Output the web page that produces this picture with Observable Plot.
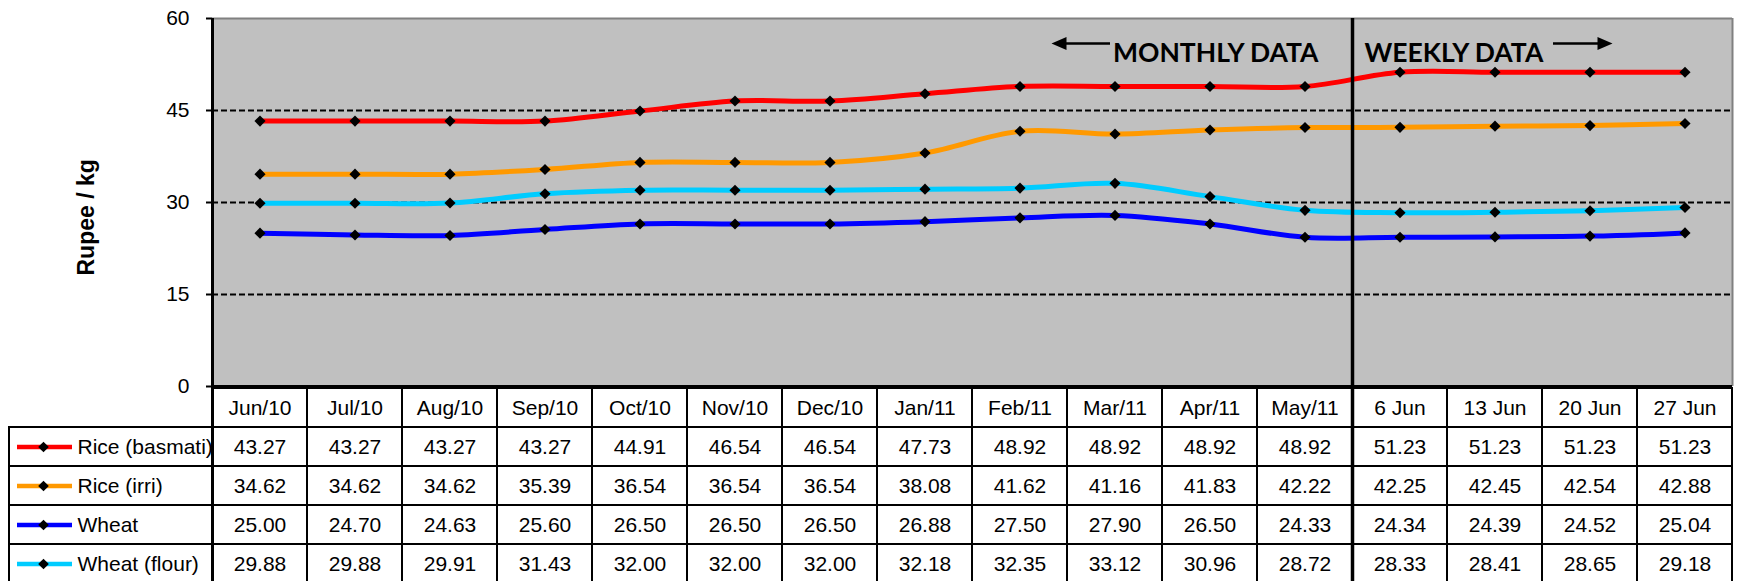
<!DOCTYPE html>
<html>
<head>
<meta charset="utf-8">
<script src="https://cdn.jsdelivr.net/npm/d3@7"></script>
<script src="https://cdn.jsdelivr.net/npm/@observablehq/plot@0.6"></script>
<style>
  html, body { margin: 0; padding: 0; background: #fff; overflow: hidden; }
  #chart svg { display: block; }
</style>
</head>
<body>
<div id="chart"></div>
<script>
// ---------- data ----------
const periods = ["Jun/10", "Jul/10", "Aug/10", "Sep/10", "Oct/10", "Nov/10", "Dec/10", "Jan/11",
                 "Feb/11", "Mar/11", "Apr/11", "May/11", "6 Jun", "13 Jun", "20 Jun", "27 Jun"];
const riceBasmati = [43.27, 43.27, 43.27, 43.27, 44.91, 46.54, 46.54, 47.73, 48.92, 48.92, 48.92, 48.92, 51.23, 51.23, 51.23, 51.23];
const riceIrri    = [34.62, 34.62, 34.62, 35.39, 36.54, 36.54, 36.54, 38.08, 41.62, 41.16, 41.83, 42.22, 42.25, 42.45, 42.54, 42.88];
const wheat       = [25.00, 24.70, 24.63, 25.60, 26.50, 26.50, 26.50, 26.88, 27.50, 27.90, 26.50, 24.33, 24.34, 24.39, 24.52, 25.04];
const wheatFlour  = [29.88, 29.88, 29.91, 31.43, 32.00, 32.00, 32.00, 32.18, 32.35, 33.12, 30.96, 28.72, 28.33, 28.41, 28.65, 29.18];
const seriesNames = ["Rice (basmati)", "Rice (irri)", "Wheat", "Wheat (flour)"];
const seriesColors = ["#FF0000", "#FF9900", "#0000FF", "#00CCFF"];
const yTicks = [0, 15, 30, 45, 60];
const monthlyCount = 12;
const yLabel = "Rupee / kg";
const monthlyLabel = "MONTHLY DATA";
const weeklyLabel = "WEEKLY DATA";

// ---------- derived ----------
const seriesValues = [riceBasmati, riceIrri, wheat, wheatFlour];
const rows = seriesNames.flatMap((name, s) =>
  seriesValues[s].map((v, i) => ({series: name, i, period: periods[i], value: v})));

const W = 1738;
const chartMarginLeft = 212, tableMarginLeft = 9, marginRight = 6;
const xDomain = [-0.5, periods.length - 0.5];
const colUnitPx = (W - chartMarginLeft - marginRight) / periods.length;
const legendUnits = (chartMarginLeft - tableMarginLeft) / colUnitPx;
const legendStart = xDomain[0] - legendUnits;
const divider = monthlyCount - 0.5;
const fontFamily = "'Liberation Sans', Arial, Helvetica, sans-serif";
const annotFont = "Lato, 'Open Sans', sans-serif";
const colorScale = {type: "ordinal", domain: seriesNames, range: seriesColors};

const headLeft = {draw(ctx) { ctx.moveTo(0, 0); ctx.lineTo(15, -6.5); ctx.lineTo(15, 6.5); ctx.closePath(); }};
const headRight = {draw(ctx) { ctx.moveTo(0, 0); ctx.lineTo(-15, -6.5); ctx.lineTo(-15, 6.5); ctx.closePath(); }};

// ---------- chart ----------
const chart = Plot.plot({
  width: W, height: 387,
  marginLeft: chartMarginLeft, marginRight, marginTop: 18, marginBottom: 1,
  style: {fontFamily, fontSize: "21px", color: "black", background: "white", overflow: "visible"},
  x: {domain: xDomain, axis: null},
  y: {domain: [yTicks[0], yTicks[yTicks.length - 1]]},
  color: colorScale,
  marks: [
    Plot.frame({fill: "#C0C0C0", stroke: null}),
    Plot.ruleY(yTicks.slice(1, -1), {stroke: "black", strokeWidth: 2, strokeDasharray: "6,3"}),
    Plot.ruleY(yTicks.slice(-1), {stroke: "#808080", strokeWidth: 2}),
    Plot.ruleX([xDomain[1]], {stroke: "#808080", strokeWidth: 2}),
    Plot.line(rows, {x: "i", y: "value", z: "series", stroke: "series", strokeWidth: 5,
                     curve: "cardinal", tension: 0}),
    Plot.dot(rows, {x: "i", y: "value", symbol: "diamond2", r: 5, fill: "black", stroke: null}),
    Plot.ruleX([divider], {stroke: "black", strokeWidth: 3.5}),
    Plot.ruleX([xDomain[0]], {stroke: "black", strokeWidth: 3}),
    Plot.ruleY([0], {stroke: "black", strokeWidth: 3}),
    Plot.axisY({ticks: yTicks, tickSize: 6, tickPadding: 17, fontSize: 21, strokeWidth: 2, label: null}),
    Plot.text([yLabel], {frameAnchor: "left", dx: -126, dy: 73, rotate: -90,
                         fontWeight: "bold", fontSize: 23, text: d => d}),
    // annotations
    Plot.text([monthlyLabel], {x: () => divider, frameAnchor: "top", dy: 25, dx: -34, textAnchor: "end",
                               text: d => d, fontFamily: annotFont, fontWeight: 700, fontSize: 26.5}),
    Plot.text([weeklyLabel], {x: () => divider, frameAnchor: "top", dy: 25, dx: 12, textAnchor: "start",
                              text: d => d, fontFamily: annotFont, fontWeight: 700, fontSize: 26.5}),
    Plot.ruleY([0], {y: () => yTicks[yTicks.length - 1], dy: 25, x1: () => divider - 4, x2: () => divider,
                     insetLeft: 88, insetRight: 242, stroke: "black", strokeWidth: 2.5}),
    Plot.dot([0], {x: () => divider, y: () => yTicks[yTicks.length - 1], dx: -301, dy: 25,
                   symbol: headLeft, fill: "black", stroke: null}),
    Plot.ruleY([0], {y: () => yTicks[yTicks.length - 1], dy: 25, x1: () => divider, x2: () => xDomain[1],
                     insetLeft: 201, insetRight: 132, stroke: "black", strokeWidth: 2.5}),
    Plot.dot([0], {x: () => divider, y: () => yTicks[yTicks.length - 1], dx: 260, dy: 25,
                   symbol: headRight, fill: "black", stroke: null})
  ]
});

// ---------- data table ----------
const headerKey = "header";
const table = Plot.plot({
  width: W, height: 196,
  marginLeft: tableMarginLeft, marginRight, marginTop: 0, marginBottom: 0,
  style: {fontFamily, fontSize: "21px", color: "black", background: "white", overflow: "visible"},
  x: {domain: [legendStart, xDomain[1]], axis: null},
  y: {domain: [headerKey, ...seriesNames], axis: null, padding: 0},
  color: colorScale,
  marks: [
    Plot.barX(periods, {x1: (d, i) => i - 0.5, x2: (d, i) => i + 0.5, y: () => headerKey,
                        fill: "white", stroke: "black", strokeWidth: 2}),
    Plot.barX(rows, {x1: d => d.i - 0.5, x2: d => d.i + 0.5, y: "series",
                     fill: "white", stroke: "black", strokeWidth: 2}),
    Plot.barX(seriesNames, {x1: () => legendStart, x2: () => xDomain[0], y: d => d,
                            fill: "white", stroke: "black", strokeWidth: 2}),
    Plot.text(periods, {x: (d, i) => i, y: () => headerKey, text: d => d}),
    Plot.text(rows, {x: "i", y: "series", text: d => d.value.toFixed(2)}),
    Plot.ruleY(seriesNames, {y: d => d, x1: () => legendStart, x2: () => xDomain[0],
                             insetLeft: 8, insetRight: 140, stroke: d => d, strokeWidth: 4.5}),
    Plot.dot(seriesNames, {x: () => legendStart, dx: 34, y: d => d, symbol: "diamond2", r: 4.8,
                           fill: "black", stroke: null}),
    Plot.text(seriesNames, {x: () => legendStart, dx: 68, y: d => d, text: d => d, textAnchor: "start"}),
    Plot.ruleX([divider], {stroke: "black", strokeWidth: 3.5}),
    Plot.ruleX([xDomain[0]], {stroke: "black", strokeWidth: 3})
  ]
});

const root = document.getElementById("chart");
root.append(chart, table);
</script>
</body>
</html>
